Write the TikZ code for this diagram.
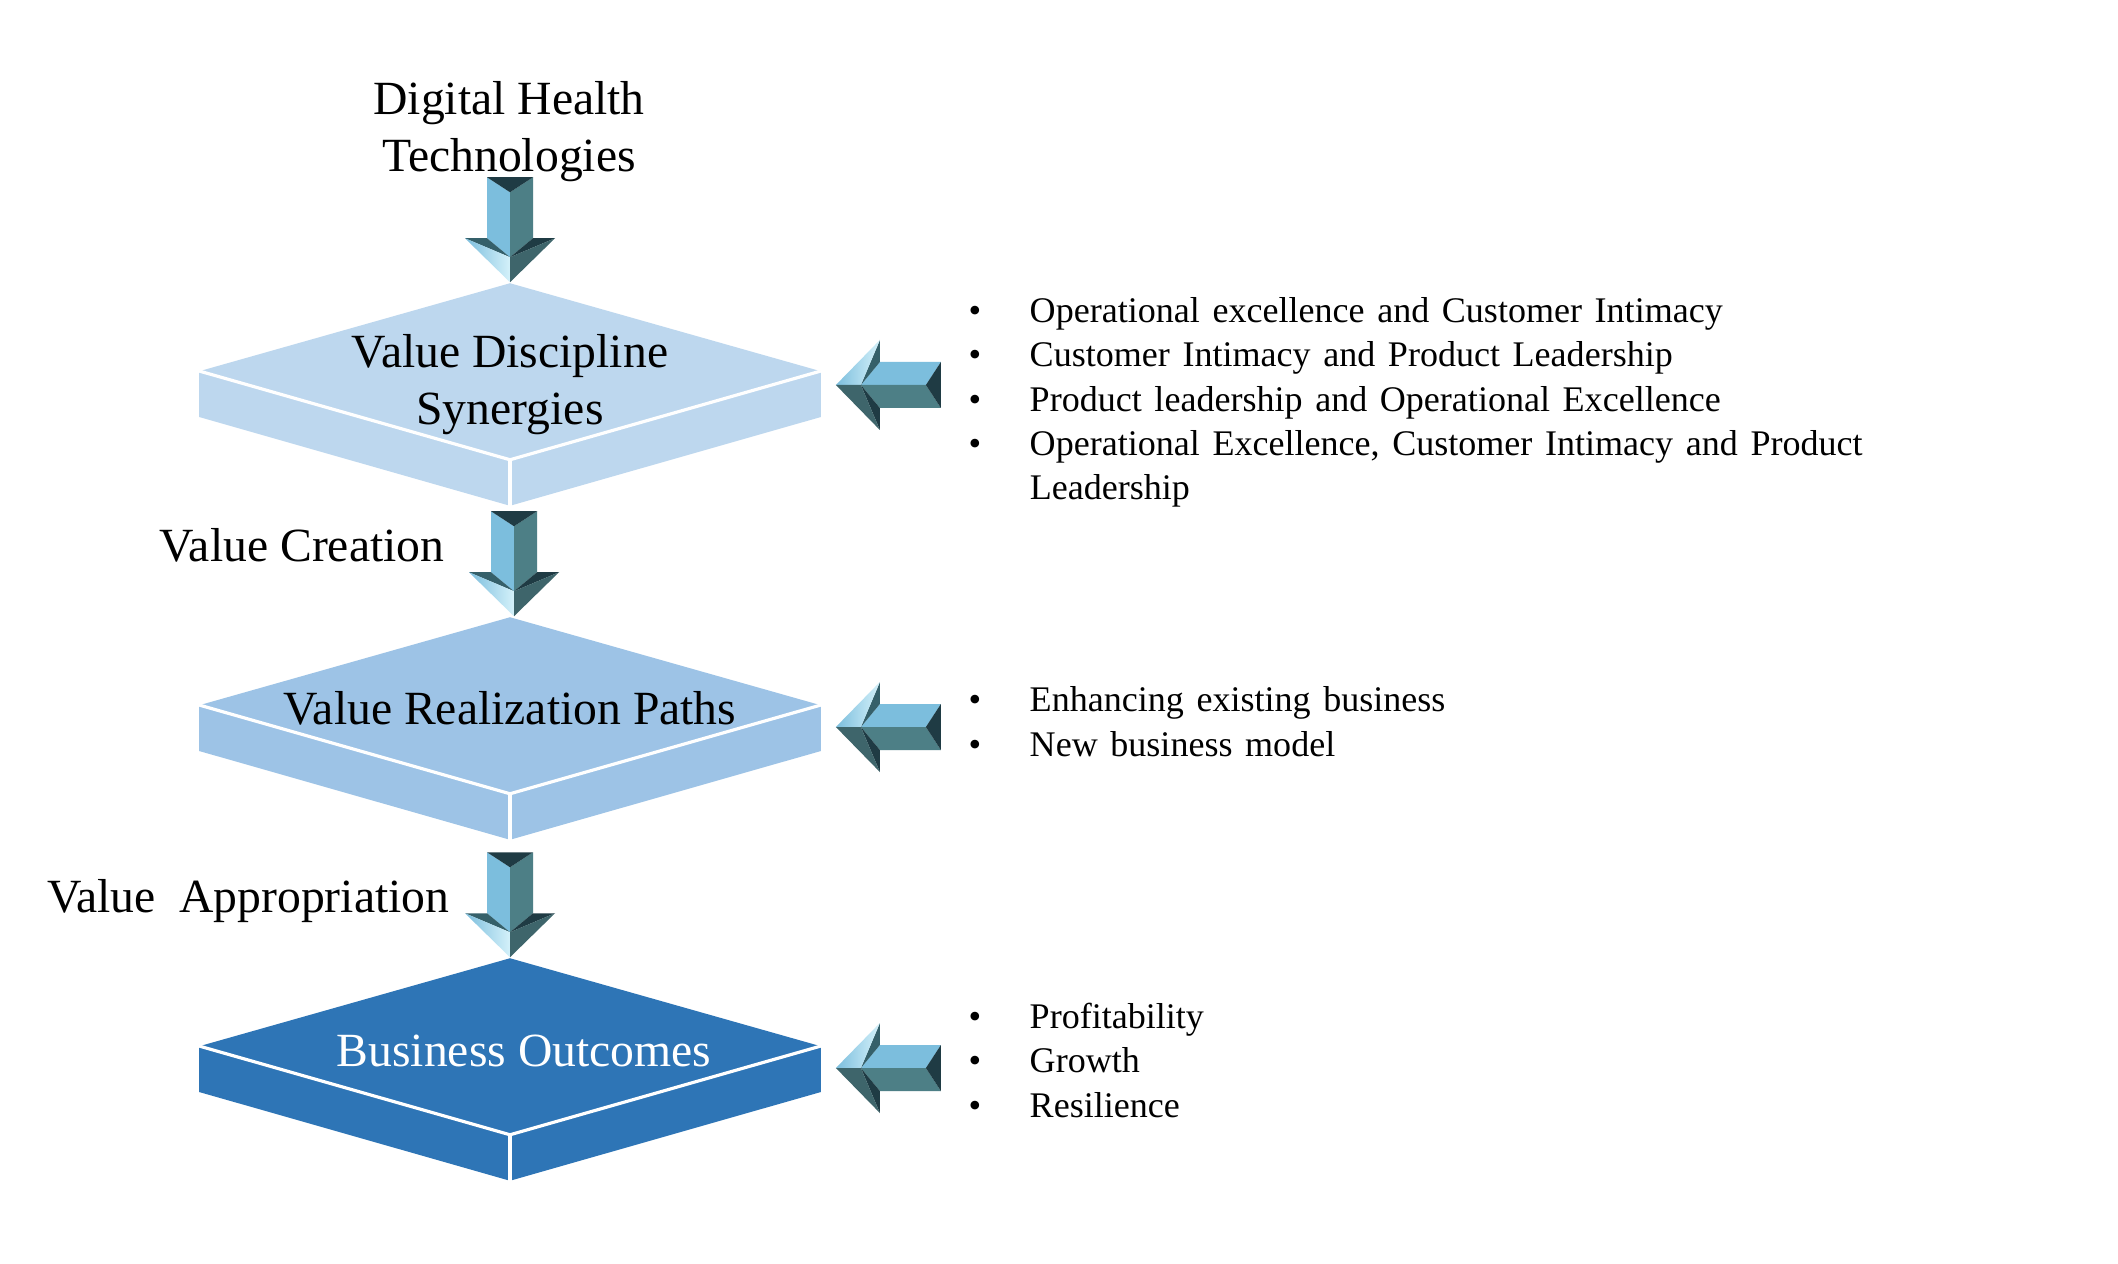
\documentclass[tikz,border=0pt]{standalone}
\usepackage{fontspec}
\setmainfont{Liberation Serif}
\newfontfamily\listfont{Liberation Serif}[WordSpace=1.4]
\usetikzlibrary{shapes.geometric, calc}
\definecolor{slabLight}{HTML}{BDD7EE}
\definecolor{slabMid}{HTML}{9DC3E6}
\definecolor{slabDark}{HTML}{2E75B6}
\definecolor{arrowLight}{HTML}{7CBEDD}
\definecolor{arrowTeal}{HTML}{4D7F86}
\definecolor{arrowDark}{HTML}{1F3B44}
\definecolor{arrowMid}{HTML}{35606A}
\definecolor{arrowShine}{HTML}{D4F1FA}
\newcommand{\Bullet}{\makebox[0.61cm][l]{\textbullet}}
\newcommand{\SlabSides}[2]{%
  \fill[#2] (#1.west) -- (#1.south) -- ($(#1.south)+(0,46)$) -- ($(#1.west)+(0,46)$) -- cycle;
  \fill[#2] (#1.east) -- (#1.south) -- ($(#1.south)+(0,46)$) -- ($(#1.east)+(0,46)$) -- cycle;
  \draw[rim] (#1.west) -- (#1.south) -- (#1.east);
  \draw[rim] (#1.south) -- ($(#1.south)+(0,46)$);
}
\tikzset{
    slab/.style={shape=diamond, inner sep=0pt, minimum width=6.2cm, minimum height=1.76cm},
    rim/.style={white, line width=0.9pt},
    big/.style={font=\fontsize{13.55}{16.3}\selectfont, inner sep=0pt},
    small/.style={font=\listfont\fontsize{10.25}{12.65}\selectfont, inner sep=0pt, align=left, anchor=base west},
    bevelarrow/.pic={
    \fill[arrowLight] (-23,0) -- (0,15) -- (0,80) -- (-23,61) -- cycle;
    \fill[arrowTeal] (23,0) -- (0,15) -- (0,80) -- (23,61) -- cycle;
    \fill[arrowDark] (-23,0) -- (23,0) -- (0,15) -- cycle;
    \fill[arrowMid] (-45,61) -- (-23,61) -- (0,80) -- cycle;
    \fill[arrowDark] (45,61) -- (23,61) -- (0,80) -- cycle;
    \shade[left color=arrowLight, right color=arrowShine] (-45,61) -- (0,80) -- (0,105) -- cycle;
    \fill[arrowTeal!80!black] (45,61) -- (0,80) -- (0,105) -- cycle;
    },
}

\begin{document}
\begin{tikzpicture}[x=0.01cm, y=-0.01cm]
    \useasboundingbox[fill=white] (0,0) rectangle (2118,1264);

    % the three value slabs
    \node[slab, fill=slabLight] (vds) at (510,371) {};
    \SlabSides{vds}{slabLight}
    \node[slab, fill=slabMid] (vrp) at (510,705) {};
    \SlabSides{vrp}{slabMid}
    \node[slab, fill=slabDark] (bo) at (510,1046) {};
    \SlabSides{bo}{slabDark}

    \node[big, align=center, anchor=base] (vdsText) at (510,425) {Value Discipline\\Synergies};
    \node[big, anchor=base] (vrpText) at (510,724) {Value Realization Paths};
    \node[big, anchor=base, text=white] (boText) at (524,1066) {Business Outcomes};

    \node[big, align=center, anchor=base] (dht) at (509,172) {Digital Health\\Technologies};
    \node[big, anchor=base east] (vc) at (445,561) {Value Creation};
    \node[big, anchor=base east] (va) at (450,912) {Value~~Appropriation};

    % down arrows, tip on the top corner of each slab
    \pic at ($(vds.north)+(0,-105)$) {bevelarrow};
    \pic at ($(vrp.north)+(4,-105)$) {bevelarrow};
    \pic at ($(bo.north)+(0,-105)$) {bevelarrow};

    % arrows from the lists
    \pic[rotate=-90] at ($(vds.east)+(120,14)$) {bevelarrow};
    \pic[rotate=-90] at ($(vrp.east)+(120,22)$) {bevelarrow};
    \pic[rotate=-90] at ($(bo.east)+(120,22)$) {bevelarrow};

    \node[small] (vdsList) at (968,500) {\Bullet Operational excellence and Customer Intimacy\\
      \Bullet Customer Intimacy and Product Leadership\\
      \Bullet Product leadership and Operational Excellence\\
      \Bullet Operational Excellence, Customer Intimacy and Product\\
      \hspace*{0.61cm}Leadership};
    \node[small] (vrpList) at (968,756) {\Bullet Enhancing existing business\\
      \Bullet New business model};
    \node[small] (boList) at (968,1117) {\Bullet Profitability\\
      \Bullet Growth\\
      \Bullet Resilience};
\end{tikzpicture}
\end{document}
